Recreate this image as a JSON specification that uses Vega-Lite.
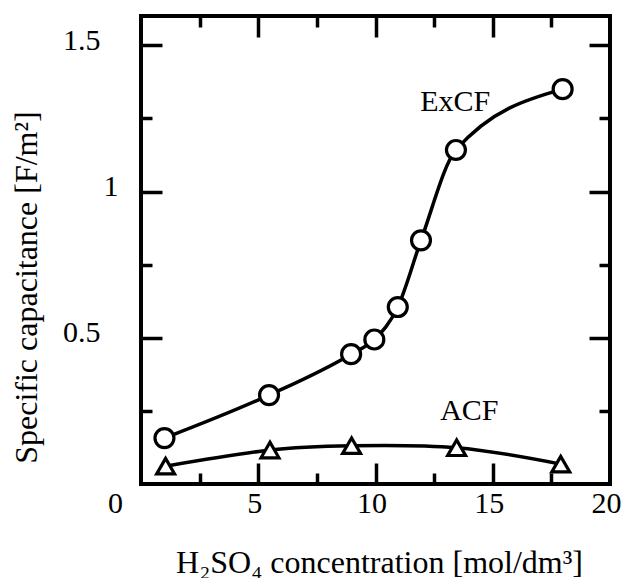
{
  "$schema": "https://vega.github.io/schema/vega-lite/v6.json",
  "width": 469,
  "height": 468,
  "autosize": {"type": "none"},
  "padding": {"left": 141, "top": 16, "right": 14, "bottom": 94},
  "background": "white",
  "config": {
    "view": {"stroke": "black", "strokeWidth": 4},
    "font": "Liberation Serif",
    "axis": {
      "grid": false,
      "domain": false,
      "labelFont": "Liberation Serif",
      "titleFont": "Liberation Serif",
      "labelColor": "black",
      "titleColor": "black",
      "tickColor": "black",
      "tickWidth": 3.5,
      "titleFontWeight": "normal",
      "labelFlush": false
    }
  },
  "datasets": {
    "excf": [
      {"conc": 1.0, "cap": 0.157},
      {"conc": 5.46, "cap": 0.304},
      {"conc": 8.96, "cap": 0.444},
      {"conc": 9.95, "cap": 0.494},
      {"conc": 10.95, "cap": 0.605},
      {"conc": 11.94, "cap": 0.833},
      {"conc": 13.43, "cap": 1.142},
      {"conc": 17.98, "cap": 1.35}
    ],
    "acf": [
      {"conc": 1.05, "cap": 0.061},
      {"conc": 5.5, "cap": 0.116},
      {"conc": 8.98, "cap": 0.131},
      {"conc": 13.46, "cap": 0.124},
      {"conc": 17.9, "cap": 0.068}
    ],
    "labels": [
      {"conc": 13.4, "cap": 1.276, "label": "ExCF"},
      {"conc": 14.0, "cap": 0.218, "label": "ACF"}
    ]
  },
  "resolve": {"axis": {"x": "independent", "y": "independent"}},
  "layer": [
    {
      "data": {"name": "excf"},
      "mark": {"type": "line", "interpolate": "monotone", "color": "black", "strokeWidth": 3.5},
      "encoding": {
        "x": {
          "field": "conc", "type": "quantitative",
          "scale": {"domain": [0, 20], "nice": false, "zero": false},
          "axis": {
            "orient": "bottom",
            "values": [0, 5, 10, 15, 20],
            "ticks": false,
            "labelFontSize": 30,
            "labelBaseline": "alphabetic",
            "labelPadding": 28,
            "labelOffset": {"condition": {"test": "datum.value == 0", "value": -26}, "value": -4},
            "title": "H₂SO₄ concentration [mol/dm³]",
            "titleFontSize": 32,
            "titleBaseline": "alphabetic",
            "titleAlign": "center",
            "titleX": 238,
            "titleY": 88
          }
        },
        "y": {
          "field": "cap", "type": "quantitative",
          "scale": {"domain": [0, 1.6], "nice": false, "zero": false},
          "axis": {
            "orient": "left",
            "values": [0.5, 1, 1.5],
            "labelExpr": "datum.value == 1 ? '1' : datum.label",
            "ticks": false,
            "labelFontSize": 30,
            "labelAlign": "right",
            "labelBaseline": "middle",
            "labelOffset": -5,
            "labelPadding": {"condition": {"test": "datum.value == 1", "value": 23}, "value": 41},
            "title": "Specific capacitance [F/m²]",
            "titleFontSize": 32,
            "titleAngle": -90,
            "titleBaseline": "alphabetic",
            "titleAlign": "center",
            "titleX": -105,
            "titleY": 271
          }
        }
      }
    },
    {
      "data": {"name": "excf"},
      "mark": {"type": "point", "shape": "circle", "filled": true, "fill": "white", "stroke": "black", "strokeWidth": 3.2, "size": 360, "opacity": 1},
      "encoding": {
        "x": {
          "field": "conc", "type": "quantitative",
          "scale": {"domain": [0, 20], "nice": false, "zero": false},
          "axis": {
            "orient": "bottom",
            "values": [2.5, 5, 7.5, 10, 12.5, 15, 17.5],
            "labels": false,
            "title": null,
            "tickSize": {"condition": {"test": "datum.value % 5 == 0", "value": -21}, "value": -11}
          }
        },
        "y": {
          "field": "cap", "type": "quantitative",
          "scale": {"domain": [0, 1.6], "nice": false, "zero": false},
          "axis": {
            "orient": "left",
            "values": [0.25, 0.5, 0.75, 1, 1.25, 1.5],
            "labels": false,
            "title": null,
            "tickSize": {"condition": {"test": "(datum.value * 2) % 1 == 0", "value": -21}, "value": -11}
          }
        }
      }
    },
    {
      "data": {"name": "acf"},
      "mark": {"type": "line", "interpolate": "natural", "color": "black", "strokeWidth": 3.5},
      "encoding": {
        "x": {
          "field": "conc", "type": "quantitative",
          "scale": {"domain": [0, 20], "nice": false, "zero": false},
          "axis": {
            "orient": "top",
            "values": [2.5, 5, 7.5, 10, 12.5, 15, 17.5],
            "labels": false,
            "title": null,
            "tickSize": {"condition": {"test": "datum.value % 5 == 0", "value": -21}, "value": -11}
          }
        },
        "y": {
          "field": "cap", "type": "quantitative",
          "scale": {"domain": [0, 1.6], "nice": false, "zero": false},
          "axis": {
            "orient": "right",
            "values": [0.25, 0.5, 0.75, 1, 1.25, 1.5],
            "labels": false,
            "title": null,
            "tickSize": {"condition": {"test": "(datum.value * 2) % 1 == 0", "value": -21}, "value": -11}
          }
        }
      }
    },
    {
      "data": {"name": "acf"},
      "mark": {"type": "point", "shape": "triangle-up", "filled": true, "fill": "white", "stroke": "black", "strokeWidth": 3.2, "size": 320, "opacity": 1},
      "encoding": {
        "x": {"field": "conc", "type": "quantitative", "scale": {"domain": [0, 20], "nice": false, "zero": false}, "axis": null},
        "y": {"field": "cap", "type": "quantitative", "scale": {"domain": [0, 1.6], "nice": false, "zero": false}, "axis": null}
      }
    },
    {
      "data": {"name": "labels"},
      "mark": {"type": "text", "font": "Liberation Serif", "fontSize": 30, "align": "center", "baseline": "alphabetic", "color": "black"},
      "encoding": {
        "x": {"field": "conc", "type": "quantitative", "scale": {"domain": [0, 20], "nice": false, "zero": false}, "axis": null},
        "y": {"field": "cap", "type": "quantitative", "scale": {"domain": [0, 1.6], "nice": false, "zero": false}, "axis": null},
        "text": {"field": "label"}
      }
    }
  ]
}
